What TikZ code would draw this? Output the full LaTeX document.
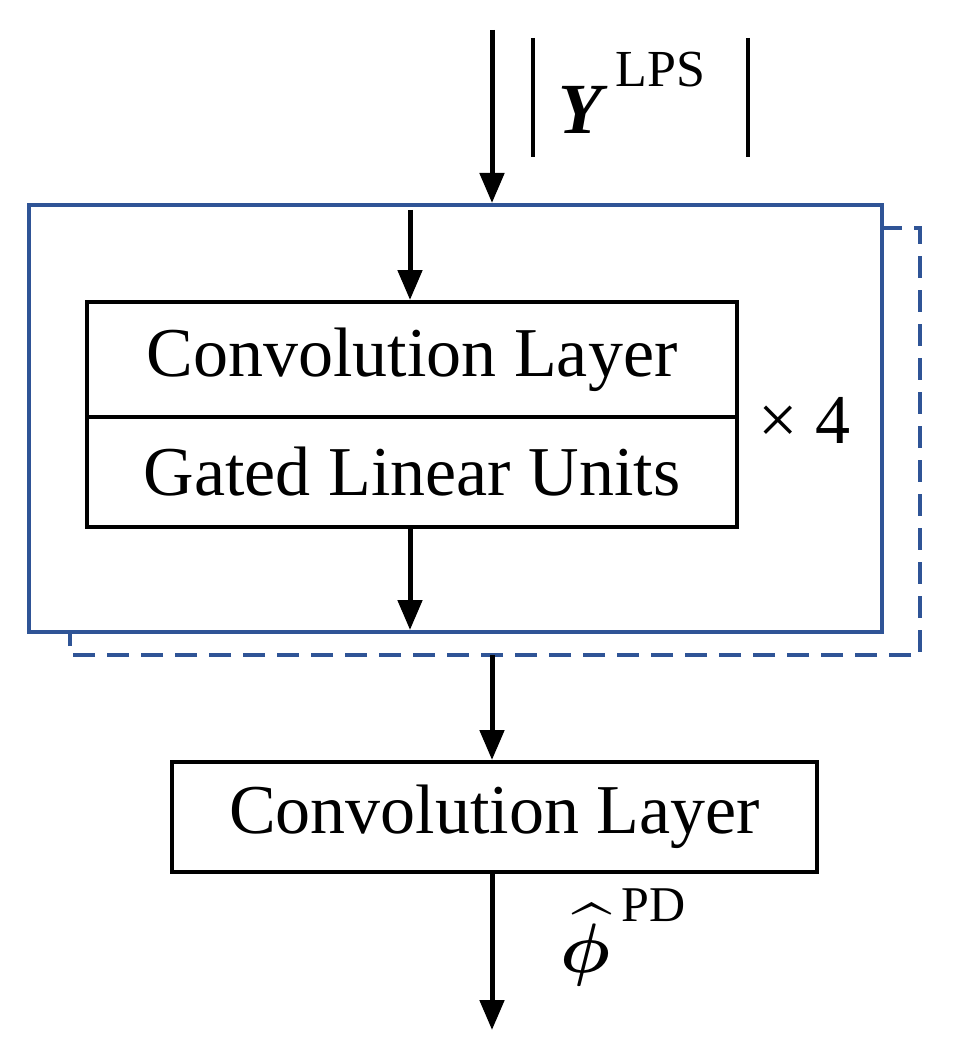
\documentclass[tikz,border=0pt]{standalone}
\usepackage{amsmath,bm}
\usepackage{fontspec}
\setmainfont{Liberation Serif}
\usetikzlibrary{arrows.meta}
\definecolor{bl}{RGB}{47,84,150}
\begin{document}
\begin{tikzpicture}[x=1pt,y=-1pt,
  arr/.style={line width=5pt,-{Triangle[length=30pt,width=24pt]}},
  box/.style={draw,line width=4pt,inner sep=0pt},
  txt/.style={font=\fontsize{70}{76}\selectfont}]
\useasboundingbox (0,0) rectangle (954,1059);
\coordinate (top) at (492,30);
\coordinate (bot) at (492,1030);
\node[box,draw=bl,minimum width=853,minimum height=427,anchor=north west] (outer) at (27,203) {};
\draw[bl,line width=4pt,dash pattern=on 22pt off 12pt] (880,228) -- (920,228) -- (920,655) -- (70,655) -- (70,630);
\node[box,minimum width=650,minimum height=115,anchor=north west,txt] (conv1) at (85,300) {Convolution Layer};
\node[box,minimum width=650,minimum height=110,anchor=north west,txt] (glu) at (85,415) {Gated Linear Units};
\node[txt,anchor=west] (x4) at (755,420) {× 4};
\node[box,minimum width=645,minimum height=110,anchor=north west,txt] (conv2) at (170,760) {Convolution Layer};
\coordinate (in1) at (410,210);
\coordinate (out1) at (410,630);
\coordinate (mid) at (492,655);
\draw[arr] (top) -- (outer.north -| top);
\draw[arr] (in1) -- (conv1.north -| in1);
\draw[arr] (glu.south -| out1) -- (out1);
\draw[arr] (mid) -- (conv2.north -| mid);
\draw[arr] (conv2.south -| bot) -- (bot);
\draw[line width=4pt] (533,38) -- (533,157) (748,38) -- (748,157);
\node[font=\fontsize{72}{76}\selectfont\bfseries\itshape] (ylab) at (580,110) {Y};
\node[font=\fontsize{52}{56}\selectfont,anchor=west] (lps) at (612,70) {LPS};
\node (plab) at (585,945) {\scalebox{7}{$\widehat{\bm{\phi}}$}};
\node[font=\fontsize{50}{56}\selectfont,anchor=west] (pd) at (618,905) {PD};
\end{tikzpicture}
\end{document}
